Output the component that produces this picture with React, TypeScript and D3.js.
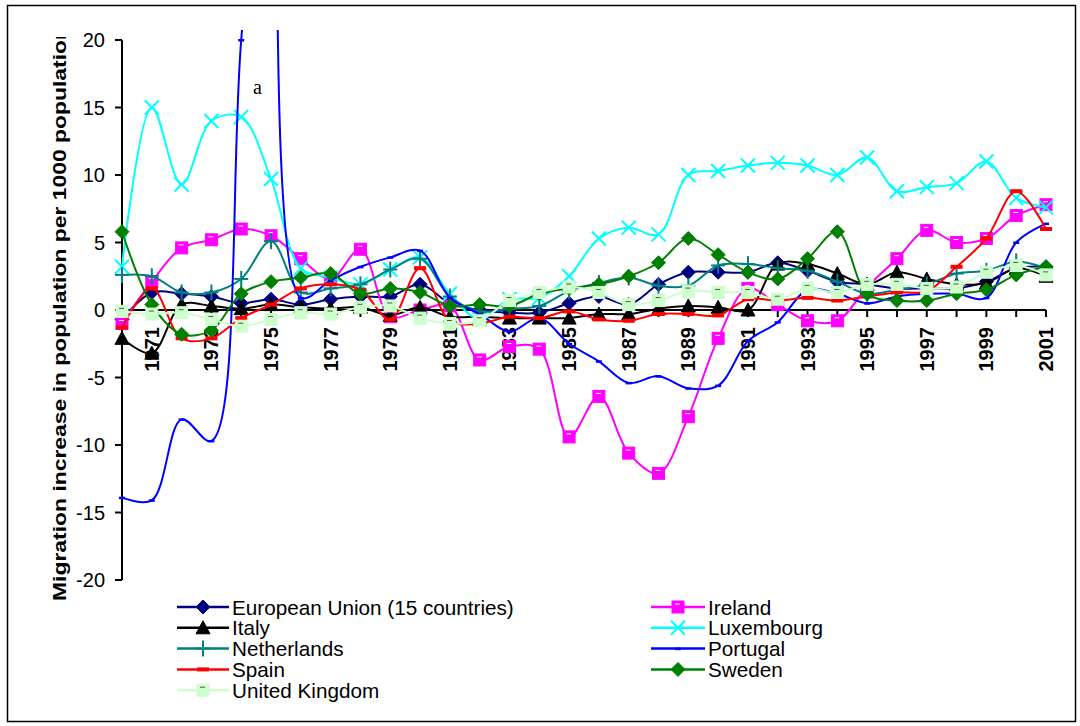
import React from "react";
import * as d3 from "d3";

const years = [1970,1971,1972,1973,1974,1975,1976,1977,1978,1979,1980,1981,1982,1983,1984,1985,1986,1987,1988,1989,1990,1991,1992,1993,1994,1995,1996,1997,1998,1999,2000,2001];

const euValues = [-0.7,1.3,1.2,1.0,0.5,0.8,0.4,0.8,1.0,1.0,1.9,0.5,0.0,-0.2,-0.2,0.5,1.0,0.4,1.9,2.8,2.8,2.8,3.5,2.9,2.1,1.9,1.6,1.6,1.6,2.1,3.1,3.2];
const irelandValues = [-1.0,2.1,4.6,5.2,6.0,5.5,3.8,2.3,4.5,-0.5,0.0,0.3,-3.7,-2.7,-2.9,-9.4,-6.4,-10.6,-12.1,-7.9,-2.1,1.6,0.4,-0.8,-0.8,1.7,3.8,5.9,5.0,5.3,7.0,7.8];
const italyValues = [-2.1,-3.2,0.4,0.3,0.1,0.4,0.2,0.1,0.2,-0.4,0.2,-0.5,-0.5,-0.6,-0.6,-0.6,-0.3,-0.3,0.1,0.3,0.2,0.0,3.4,3.4,2.7,1.9,2.8,2.3,1.9,2.0,3.1,2.5];
const luxembourgValues = [3.2,15.0,9.3,14.0,14.3,9.7,3.1,2.4,1.9,3.0,3.9,1.2,-0.7,0.8,0.9,2.5,5.3,6.1,5.6,10.0,10.3,10.7,10.9,10.7,10.0,11.3,8.8,9.1,9.4,11.0,8.3,7.6];
const netherlandsValues = [2.6,2.5,1.3,1.3,2.3,5.1,1.3,1.6,1.9,3.0,3.8,1.0,-0.1,0.1,0.3,1.4,2.0,2.4,1.8,1.8,3.3,3.4,3.1,2.9,2.1,1.2,1.5,1.9,2.7,2.9,3.6,3.1];
const portugalValues = [-13.9,-14.1,-8.1,-9.7,20,45,0.9,2.2,3.2,3.9,4.4,0.9,-0.3,-1.6,-0.6,-2.5,-3.8,-5.4,-4.9,-5.8,-5.6,-2.3,-0.9,1.5,1.2,0.5,1.0,1.2,1.2,0.9,5.0,6.4];
const spainValues = [-1.3,1.6,-2.1,-2.1,-0.6,0.4,1.6,1.9,1.5,-0.7,3.1,-0.8,-1.0,-0.5,-0.6,-0.1,-0.7,-0.8,-0.3,-0.3,-0.4,0.8,0.7,0.9,0.7,1.0,1.3,1.4,3.2,5.3,8.8,6.0];
const swedenValues = [5.8,0.4,-1.8,-1.5,1.2,2.1,2.4,2.7,1.2,1.6,1.3,0.3,0.4,0.3,1.2,1.6,1.9,2.5,3.5,5.3,4.1,2.8,2.3,3.8,5.8,1.2,0.7,0.7,1.2,1.5,2.6,3.2];
const ukValues = [-0.1,-0.3,-0.2,-0.7,-1.2,-0.7,-0.2,-0.3,0.2,0.3,-0.6,-1.0,-0.8,0.7,1.3,1.7,1.3,0.4,0.7,1.4,1.3,1.3,0.8,1.6,1.3,1.9,1.9,1.6,1.7,2.8,3.3,2.6];

const yTicks = [20, 15, 10, 5, 0, -5, -10, -15, -20];
const xLabelYears = [1971,1973,1975,1977,1979,1981,1983,1985,1987,1989,1991,1993,1995,1997,1999,2001];

type Marker = "diamond" | "triangle" | "plus" | "dash" | "square" | "x" | "smalldash";
interface Series { name: string; values: number[]; color: string; marker: Marker; }

const series: Series[] = [
  { name: "European Union (15 countries)", values: euValues, color: "#000080", marker: "diamond" },
  { name: "Ireland", values: irelandValues, color: "#FF00FF", marker: "square" },
  { name: "Italy", values: italyValues, color: "#000000", marker: "triangle" },
  { name: "Luxembourg", values: luxembourgValues, color: "#00FFFF", marker: "x" },
  { name: "Netherlands", values: netherlandsValues, color: "#008080", marker: "plus" },
  { name: "Portugal", values: portugalValues, color: "#0000FF", marker: "smalldash" },
  { name: "Spain", values: spainValues, color: "#FF0000", marker: "dash" },
  { name: "Sweden", values: swedenValues, color: "#008000", marker: "diamond" },
  { name: "United Kingdom", values: ukValues, color: "#CCFFCC", marker: "square" },
];

const legendLeft = ["European Union (15 countries)", "Italy", "Netherlands", "Spain", "United Kingdom"];
const legendRight = ["Ireland", "Luxembourg", "Portugal", "Sweden"];

const FONT = "Arial, 'Liberation Sans', Helvetica, sans-serif";

function MarkerShape({ m, cx, cy, color }: { m: Marker; cx: number; cy: number; color: string }) {
  switch (m) {
    case "diamond": {
      const r = 7;
      return <polygon points={`${cx},${cy - r} ${cx + r},${cy} ${cx},${cy + r} ${cx - r},${cy}`} fill={color} stroke={color} strokeWidth={1} />;
    }
    case "triangle":
      return <polygon points={`${cx},${cy - 7} ${cx + 7},${cy + 6} ${cx - 7},${cy + 6}`} fill={color} stroke={color} strokeWidth={1} />;
    case "plus":
      return (
        <g stroke={color} strokeWidth={2}>
          <line x1={cx - 7} y1={cy} x2={cx + 7} y2={cy} />
          <line x1={cx} y1={cy - 8} x2={cx} y2={cy + 8} />
        </g>
      );
    case "x":
      return (
        <g stroke={color} strokeWidth={2}>
          <line x1={cx - 7} y1={cy - 7} x2={cx + 7} y2={cy + 7} />
          <line x1={cx - 7} y1={cy + 7} x2={cx + 7} y2={cy - 7} />
        </g>
      );
    case "dash":
      return <rect x={cx - 6} y={cy - 2} width={12} height={4} fill={color} />;
    case "smalldash":
      return <rect x={cx - 3} y={cy - 1} width={6} height={2.5} fill={color} />;
    case "square": {
      const inner = color === "#FF00FF" ? "#FFFFFF" : "#555555";
      return (
        <g>
          <rect x={cx - 6} y={cy - 6} width={12} height={12} fill={color} stroke={color} strokeWidth={1} />
          <line x1={cx - 3} y1={cy - 3} x2={cx + 2} y2={cy - 3} stroke={inner} strokeWidth={1} />
        </g>
      );
    }
  }
  return null;
}

export default function App() {
  const x = d3.scaleLinear().domain([1970, 2001]).range([122, 1046]);
  const y = d3.scaleLinear().domain([-20, 20]).range([580, 40]);
  const line = d3
    .line<number>()
    .x((_, i) => x(years[i]))
    .y((d) => y(d))
    .curve(d3.curveCatmullRom.alpha(0.5));

  const y0 = y(0);
  const rowY = (i: number) => 607 + 20.8 * i;

  const legendItem = (name: string, i: number, x1: number, x2: number) => {
    const s = series.find((d) => d.name === name)!;
    const cy = rowY(i);
    return (
      <g key={name}>
        <line x1={x1} y1={cy} x2={x2} y2={cy} stroke={s.color} strokeWidth={2.5} />
        <MarkerShape m={s.marker} cx={(x1 + x2) / 2} cy={cy} color={s.color} />
        <text x={x2 + 3} y={cy + 7.5} fontSize={20.7} fontFamily={FONT} fill="#000">{name}</text>
      </g>
    );
  };

  return (
    <svg width={1080} height={726} style={{ position: "absolute", left: 0, top: 0, background: "#fff" }}>
      <defs>
        <clipPath id="plotClip">
          <rect x={100} y={30} width={980} height={560} />
        </clipPath>
        <clipPath id="titleClip">
          <rect x={0} y={37} width={120} height={680} />
        </clipPath>
      </defs>
      <rect x={0} y={0} width={1080} height={726} fill="#fff" />
      <rect x={7.5} y={5.5} width={1068} height={716} fill="none" stroke="#000" strokeWidth={1.5} />

      {/* Y axis */}
      <line x1={122} y1={y(20)} x2={122} y2={y(-20)} stroke="#000" strokeWidth={2} />
      {yTicks.map((t) => (
        <g key={t}>
          <line x1={115} y1={y(t)} x2={122} y2={y(t)} stroke="#000" strokeWidth={2} />
          <text x={105} y={y(t) + 7} textAnchor="end" fontSize={20} fontFamily={FONT} fill="#000">{t}</text>
        </g>
      ))}

      {/* X axis */}
      <line x1={122} y1={y0} x2={x(2001)} y2={y0} stroke="#000" strokeWidth={2} />
      {years.slice(1).map((yr) => (
        <line key={yr} x1={x(yr)} y1={y0} x2={x(yr)} y2={y0 + 7} stroke="#000" strokeWidth={2} />
      ))}
      {xLabelYears.map((yr) => (
        <text key={yr} transform={`translate(${x(yr) + 7},${y0 + 17}) rotate(-90)`} textAnchor="end" fontSize={20} fontWeight="bold" fontFamily={FONT} fill="#000">{yr}</text>
      ))}

      {/* Y title (clipped at top as in the original) */}
      <g clipPath="url(#titleClip)">
        <text transform="translate(66,601) rotate(-90)" textAnchor="start" fontSize={19} fontWeight="bold" fontFamily={FONT} fill="#000" textLength={575} lengthAdjust="spacingAndGlyphs">
          Migration increase in population per 1000 population
        </text>
      </g>

      {/* Series */}
      {series.map((s) => (
        <g key={s.name}>
          <g clipPath="url(#plotClip)">
            <path d={line(s.values) || ""} fill="none" stroke={s.color} strokeWidth={2} />
          </g>
          {s.values.map((v, i) =>
            v <= 20 && v >= -20 ? (
              <MarkerShape key={i} m={s.marker} cx={x(years[i])} cy={y(v)} color={s.color} />
            ) : null
          )}
        </g>
      ))}

      <text x={253} y={94} fontSize={20} fontFamily="'Liberation Serif', 'Times New Roman', serif" fill="#000">a</text>

      {/* Legend */}
      {legendLeft.map((n, i) => legendItem(n, i, 177, 229))}
      {legendRight.map((n, i) => legendItem(n, i, 651, 705))}
    </svg>
  );
}
